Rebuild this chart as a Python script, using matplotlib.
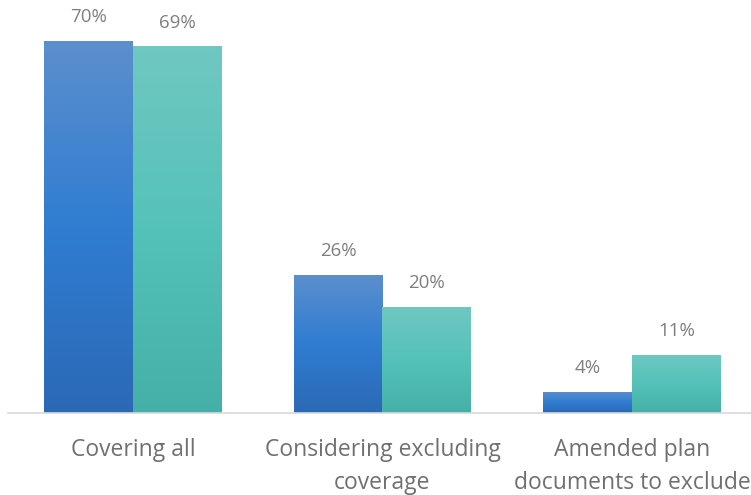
import matplotlib
matplotlib.use("Agg")
import matplotlib.pyplot as plt
import numpy as np
from matplotlib.colors import LinearSegmentedColormap

categories = ["Covering all", "Considering excluding\ncoverage", "Amended plan\ndocuments to exclude"]
series_a = [70, 26, 4]
series_b = [69, 20, 11]

blue_stops = ["#5c8fcd", "#307dd2", "#2b69b5"]
teal_stops = ["#6fc8c1", "#55c2b9", "#44b0a8"]

W, H, DPI = 751, 495, 100
fig = plt.figure(figsize=(W / DPI, H / DPI), dpi=DPI)
base_y = 413
ax = fig.add_axes([8 / W, 1 - base_y / H, 1 - 8 / W, base_y / H])

px_per_pct = 372 / 70
ylim = (0, base_y / px_per_pct)
xlim = (-0.5, 2.5 - 6 / 250)

x = np.arange(len(categories))
bw = 89 / 250


def gradient_bars(xpos, vals, stops):
    cmap = LinearSegmentedColormap.from_list("g", stops)
    bars = ax.bar(xpos, vals, width=bw, color="none", edgecolor="none", zorder=2)
    grad = np.linspace(0, 1, 256).reshape(-1, 1)
    for b in bars:
        x0, y0 = b.get_x(), b.get_y()
        w, h = b.get_width(), b.get_height()
        im = ax.imshow(grad, cmap=cmap, aspect="auto", origin="upper",
                       extent=[x0, x0 + w, y0, y0 + h], zorder=2)
        im.set_clip_path(b)
    return bars


bars_a = gradient_bars(x - bw / 2, series_a, blue_stops)
bars_b = gradient_bars(x + bw / 2, series_b, teal_stops)
ax.set_xlim(*xlim)
ax.set_ylim(*ylim)

label_font = "Open Sans"
for bars, vals in ((bars_a, series_a), (bars_b, series_b)):
    for b, v in zip(bars, vals):
        ax.annotate(f"{v}%", (b.get_x() + b.get_width() / 2, v),
                    xytext=(0, 17), textcoords="offset points",
                    ha="center", va="center", fontsize=13.5,
                    color="#7f7f7f", family=label_font)

for s in ["top", "right", "left"]:
    ax.spines[s].set_visible(False)
ax.spines["bottom"].set_color("#d9d9d9")
ax.spines["bottom"].set_linewidth(1.2)
ax.set_yticks([])
ax.set_xticks(x)
ax.set_xticklabels(categories, fontsize=16.5, color="#707070", family=label_font,
                   linespacing=1.52)
ax.tick_params(axis="x", length=0, pad=18)

fig.savefig("out.png", dpi=DPI)
